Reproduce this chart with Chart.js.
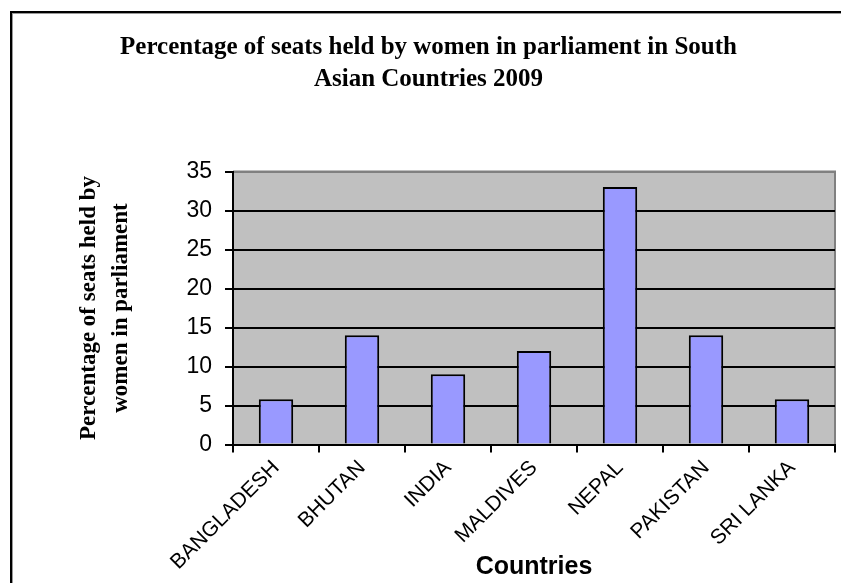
<!DOCTYPE html>
<html>
<head>
<meta charset="utf-8">
<title>Women in parliament - South Asia 2009</title>
<script src="https://cdn.jsdelivr.net/npm/chart.js@4"></script>
<style>
    html, body { margin: 0; padding: 0; background: #fff; overflow: hidden; }
    #wrap { position: relative; width: 841px; height: 583px; }
    #frame {
        position: absolute; left: 10px; top: 11px; width: 900px; height: 700px;
        border-left: 2px solid #000; border-top: 2px solid #000;
        box-shadow: inset 1px 1px 0 #999;
    }
    #seatsChart { position: absolute; left: 0; top: 0; }
</style>
</head>
<body>
<div id="wrap">
    <div id="frame"></div>
    <canvas id="seatsChart" width="841" height="583"></canvas>
</div>
<script>
const countries = ['BANGLADESH', 'BHUTAN', 'INDIA', 'MALDIVES', 'NEPAL', 'PAKISTAN', 'SRI LANKA'];
const seatShare = [5.8, 14, 9, 12, 33, 14, 5.8];
const yTicks = [0, 5, 10, 15, 20, 25, 30, 35];

const chartTitle = ['Percentage of seats held by women in parliament in South', 'Asian Countries 2009'];
const yTitle = ['Percentage of seats held by', 'women in parliament'];
const xTitle = 'Countries';

// grey plot area with a soft border on the top and right edges
const plotArea = {
    id: 'plotArea',
    beforeDraw(chart) {
        const { ctx, chartArea: a } = chart;
        ctx.save();
        ctx.fillStyle = '#c0c0c0';
        ctx.fillRect(a.left, a.top, a.right - a.left, a.bottom - a.top);
        ctx.strokeStyle = '#808080';
        ctx.lineWidth = 2;
        ctx.beginPath();
        ctx.moveTo(a.left, a.top);
        ctx.lineTo(a.right, a.top);
        ctx.lineTo(a.right, a.bottom);
        ctx.stroke();
        ctx.restore();
    }
};

const ctx = document.getElementById('seatsChart').getContext('2d');
const chart = new Chart(ctx, {
    type: 'bar',
    data: {
        labels: countries,
        datasets: [{
            label: 'Seats held by women (%)',
            data: seatShare,
            backgroundColor: '#9999ff',
            borderColor: '#000',
            borderWidth: 2,
            borderSkipped: 'bottom',
            barPercentage: 0.4,
            categoryPercentage: 1
        }]
    },
    options: {
        responsive: false,
        animation: false,
        layout: { padding: { left: 22, right: 6, top: 0, bottom: 0 } },
        plugins: {
            legend: { display: false },
            tooltip: { enabled: false },
            title: {
                display: true,
                text: chartTitle,
                color: '#000',
                font: { family: 'Liberation Serif', weight: 'bold', size: 25, lineHeight: 1.28 },
                padding: { top: 32, bottom: 75.5 }
            }
        },
        scales: {
            x: {
                afterFit(scale) { scale.height = 138.5; },
                grid: {
                    offset: true,
                    drawOnChartArea: false,
                    color: '#000',
                    lineWidth: 2,
                    tickLength: 8
                },
                border: { color: '#000', width: 2 },
                ticks: {
                    color: '#000',
                    font: { family: 'Liberation Sans', size: 21 },
                    minRotation: 45,
                    maxRotation: 45,
                    padding: 3
                },
                title: {
                    display: true,
                    text: xTitle,
                    color: '#000',
                    font: { family: 'Liberation Sans', weight: 'bold', size: 25 },
                    padding: { top: 0, bottom: 1 }
                }
            },
            y: {
                min: 0,
                max: 35,
                afterFit(scale) { scale.width = 211; },
                afterBuildTicks(scale) { scale.ticks = yTicks.map(v => ({ value: v })); },
                grid: {
                    color: c => (c.tick && c.tick.value === 35 ? '#808080' : '#000'),
                    tickColor: '#000',
                    lineWidth: 2,
                    tickLength: 8
                },
                border: { color: '#000', width: 2 },
                ticks: {
                    color: '#000',
                    font: { family: 'Liberation Sans', size: 23 },
                    padding: 13
                },
                title: {
                    display: true,
                    text: yTitle,
                    color: '#000',
                    font: { family: 'Liberation Serif', weight: 'bold', size: 23, lineHeight: 1.39 },
                    padding: { top: 51, bottom: 0 }
                }
            }
        }
    },
    plugins: [plotArea]
});
</script>
</body>
</html>
